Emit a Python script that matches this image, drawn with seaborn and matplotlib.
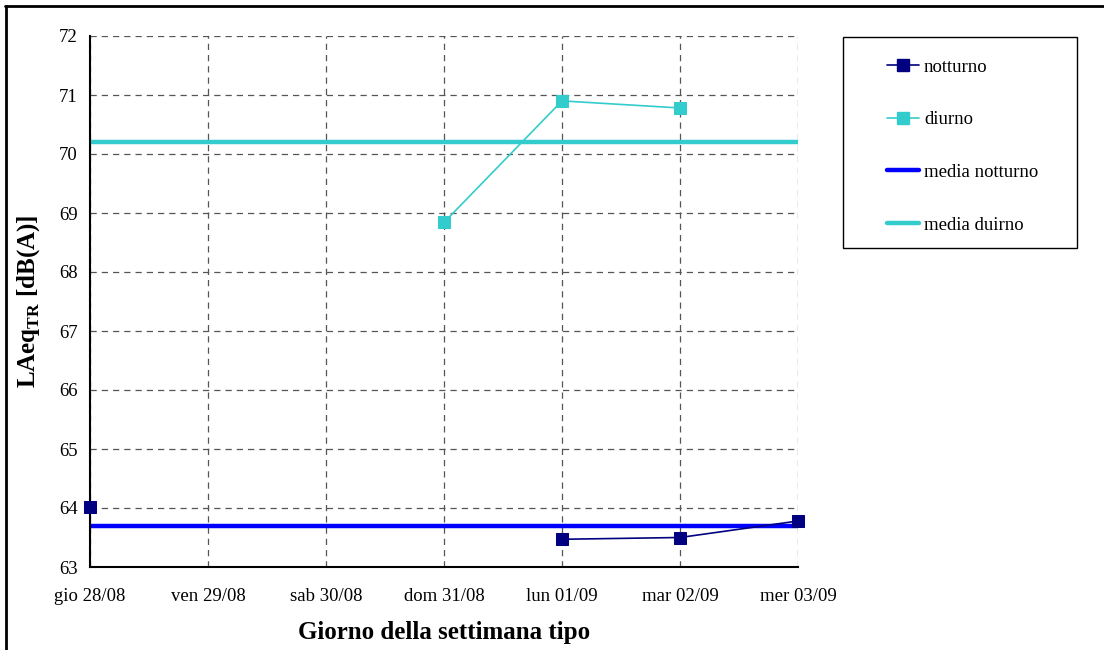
import matplotlib
matplotlib.use("Agg")
import matplotlib.pyplot as plt
from matplotlib.lines import Line2D
from matplotlib.patches import Rectangle
import numpy as np
import pandas as pd
import seaborn as sns

# ── data ──────────────────────────────────────────────────────────────────────
days = ["gio 28/08", "ven 29/08", "sab 30/08", "dom 31/08",
        "lun 01/09", "mar 02/09", "mer 03/09"]
notturno = [64.02, np.nan, np.nan, np.nan, 63.47, 63.50, 63.78]
diurno = [np.nan, np.nan, np.nan, 68.84, 70.90, 70.78, np.nan]
media_notturno = 63.70
media_diurno = 70.21
y_ticks = [63, 64, 65, 66, 67, 68, 69, 70, 71, 72]

C_NOTT = "#000080"
C_DIUR = "#33CCCC"
C_MNOTT = "#0000FF"


def segments(vals, name):
    """long-form rows, split into runs so gaps are not bridged"""
    rows, seg, prev = [], 0, False
    for i, v in enumerate(vals):
        if np.isnan(v):
            if prev:
                seg += 1
            prev = False
            continue
        rows.append({"pos": i, "val": v, "series": name, "seg": seg})
        prev = True
    return pd.DataFrame(rows)


sns.set_style("white")
plt.rcParams.update({
    "font.family": ["Liberation Serif", "DejaVu Serif"],
    "text.color": "black",
    "axes.labelcolor": "black",
    "xtick.labelcolor": "black",
    "ytick.labelcolor": "black",
    "mathtext.fontset": "custom",
    "mathtext.rm": "Liberation Serif",
    "mathtext.bf": "Liberation Serif:bold",
})

fig = plt.figure(figsize=(11.04, 6.5), dpi=100)
ax = fig.add_axes([90 / 1104, 1 - 567 / 650, 708 / 1104, 531 / 650])

# mean lines
ax.axhline(media_notturno, color=C_MNOTT, lw=3.2, zorder=2)
ax.axhline(media_diurno, color=C_DIUR, lw=3.2, zorder=2)

df_n = segments(notturno, "notturno")
df_d = segments(diurno, "diurno")
sns.lineplot(data=df_n, x="pos", y="val", units="seg", estimator=None,
             color=C_NOTT, lw=1.2, marker="s", markersize=8.5,
             markeredgecolor=C_NOTT, ax=ax, zorder=3, legend=False,
             clip_on=False)
sns.lineplot(data=df_d, x="pos", y="val", units="seg", estimator=None,
             color=C_DIUR, lw=1.2, marker="s", markersize=8.5,
             markeredgecolor=C_DIUR, ax=ax, zorder=3, legend=False,
             clip_on=False)

ax.set_xlim(0, len(days) - 1)
ax.set_ylim(63, 72)
ax.set_xticks(range(len(days)))
ax.set_xticklabels(days, fontsize=13.5)
ax.set_yticks(y_ticks)
ax.set_yticklabels([str(t) for t in y_ticks], fontsize=13.5)
ax.grid(True, color="#555555", ls=(0, (5, 4)), lw=0.9)
ax.set_axisbelow(True)
for s in ["top", "right"]:
    ax.spines[s].set_visible(False)
for s in ["left", "bottom"]:
    ax.spines[s].set_color("black")
    ax.spines[s].set_linewidth(1.5)
ax.tick_params(axis="both", direction="out", length=5, width=1,
               color="#555555", pad=4)
ax.tick_params(axis="x", pad=10)

ax.set_xlabel("Giorno della settimana tipo", fontsize=18, fontweight="bold",
              labelpad=12)
ax.set_ylabel(r"LAeq$_{\mathbf{TR}}$ [dB(A)]", fontsize=18,
              fontweight="bold", labelpad=12)

# legend in its own box
fig.patches.append(Rectangle((843 / 1104, 1 - 248 / 650), 234 / 1104,
                             211 / 650, transform=fig.transFigure,
                             fill=False, ec="black", lw=1))
handles = [
    Line2D([], [], color=C_NOTT, lw=1.2, marker="s", markersize=8.5),
    Line2D([], [], color=C_DIUR, lw=1.2, marker="s", markersize=8.5),
    Line2D([], [], color=C_MNOTT, lw=3.2),
    Line2D([], [], color=C_DIUR, lw=3.2),
]
labels = ["notturno", "diurno", "media notturno", "media duirno"]
fig.legend(handles, labels, loc="upper left",
           bbox_to_anchor=(878 / 1104, 1 - 49 / 650), frameon=False,
           fontsize=13.5, handlelength=1.7, handletextpad=0.25,
           labelspacing=1.9, borderpad=0)

# outer frame (top and left edges)
fig.add_artist(Line2D([5 / 1104, 1], [1 - 6 / 650, 1 - 6 / 650],
                      transform=fig.transFigure, color="black", lw=2))
fig.add_artist(Line2D([6 / 1104, 6 / 1104], [0, 1 - 6 / 650],
                      transform=fig.transFigure, color="black", lw=2))

fig.savefig("out.png", dpi=100)
